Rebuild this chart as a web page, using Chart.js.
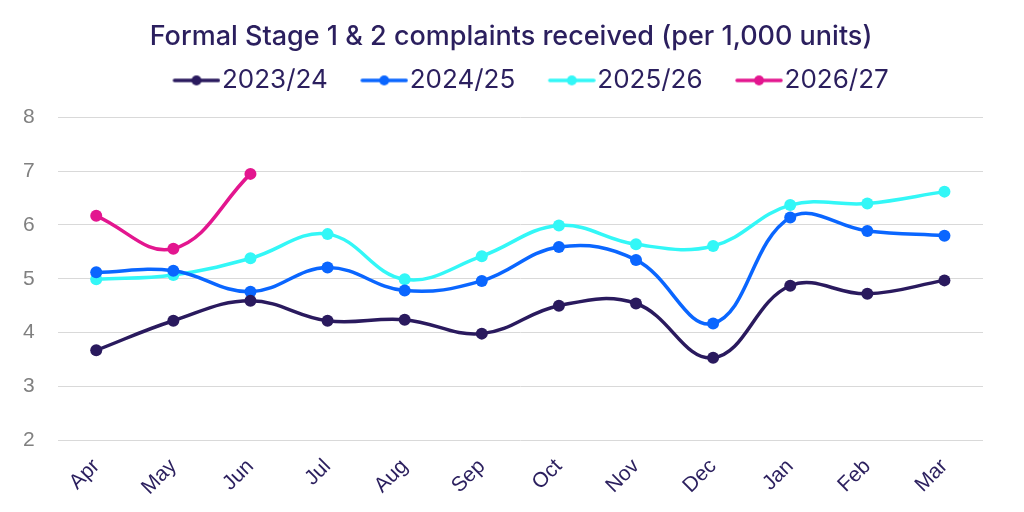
<!DOCTYPE html>
<html>
<head>
<meta charset="utf-8">
<script src="https://cdn.jsdelivr.net/npm/chart.js@4"></script>
<style>
  html, body { margin: 0; padding: 0; background: #fff; }
</style>
</head>
<body>
<canvas id="chart1" width="1024" height="512"></canvas>
<script>
const months = ['Apr', 'May', 'Jun', 'Jul', 'Aug', 'Sep', 'Oct', 'Nov', 'Dec', 'Jan', 'Feb', 'Mar'];
const seriesNames = ['2023/24', '2024/25', '2025/26', '2026/27'];
const fy2324 = [3.67, 4.22, 4.59, 4.22, 4.24, 3.98, 4.50, 4.54, 3.53, 4.87, 4.72, 4.97];
const fy2425 = [5.12, 5.15, 4.76, 5.21, 4.78, 4.96, 5.59, 5.35, 4.17, 6.14, 5.89, 5.80];
const fy2526 = [4.99, 5.07, 5.38, 5.83, 4.99, 5.42, 5.99, 5.64, 5.61, 6.37, 6.40, 6.62];
const fy2627 = [6.17, 5.56, 6.95];
const yTicks = [2, 3, 4, 5, 6, 7, 8];

const colours = ['#2a1a5e', '#0a66ff', '#33f7f7', '#e3168f'];
const navy = '#2b1f5e';

// legend icon: short line with a dot in the middle, sitting at the right of the canvas
function legendIcon(colour) {
    const c = document.createElement('canvas');
    c.width = 80; c.height = 14;
    const g = c.getContext('2d');
    g.strokeStyle = colour;
    g.lineWidth = 3.5;
    g.lineCap = 'round';
    g.beginPath(); g.moveTo(34, 7); g.lineTo(78, 7); g.stroke();
    g.fillStyle = colour;
    g.beginPath(); g.arc(56, 7, 5, 0, Math.PI * 2); g.fill();
    return c;
}

// extra room under the legend
const legendGap = {
    id: 'legendGap',
    beforeInit(chart) {
        const fit = chart.legend.fit;
        chart.legend.fit = function () {
            fit.bind(chart.legend)();
            this.height += 14;
        };
    }
};

const allData = [fy2324, fy2425, fy2526, fy2627];

const ctx = document.getElementById('chart1').getContext('2d');
const chart1 = new Chart(ctx, {
    type: 'line',
    data: {
        labels: months,
        datasets: allData.map((d, i) => ({
            label: seriesNames[i],
            data: d,
            borderColor: colours[i],
            backgroundColor: colours[i],
            pointBackgroundColor: colours[i],
            pointBorderWidth: 0,
            pointRadius: 6,
            borderWidth: 3.5,
            tension: 0.4,
            fill: false
        }))
    },
    options: {
        responsive: false,
        animation: false,
        devicePixelRatio: 1,
        layout: { padding: { left: 0, right: 2, top: 10, bottom: 6 } },
        plugins: {
            title: {
                display: true,
                text: 'Formal Stage 1 & 2 complaints received (per 1,000 units)',
                color: navy,
                font: { family: 'Inter', size: 27, weight: '500' },
                padding: { top: 11, bottom: 2 }
            },
            legend: {
                fullSize: false,
                labels: {
                    color: navy,
                    font: { family: 'Inter', size: 26 },
                    usePointStyle: true,
                    pointStyleWidth: 57,
                    padding: 12,
                    generateLabels: chart => chart.data.datasets.map((ds, i) => ({
                        text: ds.label,
                        pointStyle: legendIcon(colours[i]),
                        fontColor: navy,
                        datasetIndex: i,
                        hidden: false,
                        lineWidth: 0
                    }))
                }
            },
            tooltip: { enabled: false }
        },
        scales: {
            x: {
                offset: true,
                grid: { display: false },
                border: { display: false },
                ticks: {
                    color: navy,
                    font: { family: 'Liberation Sans', size: 21 },
                    maxRotation: 45,
                    minRotation: 45,
                    padding: 6
                }
            },
            y: {
                min: yTicks[0],
                max: yTicks[yTicks.length - 1],
                afterBuildTicks: axis => { axis.ticks = yTicks.map(v => ({ value: v })); },
                grid: { color: '#d9d9d9', lineWidth: 1, drawTicks: false },
                border: { display: false },
                ticks: {
                    color: '#808080',
                    font: { family: 'Liberation Sans', size: 21 },
                    padding: 23
                }
            },
            // empty strip on the right of the plot
            yRight: {
                position: 'right',
                grid: { display: false },
                border: { display: false },
                ticks: { display: false },
                afterFit: axis => { axis.width = 39; }
            }
        }
    },
    plugins: [legendGap]
});
</script>
</body>
</html>
